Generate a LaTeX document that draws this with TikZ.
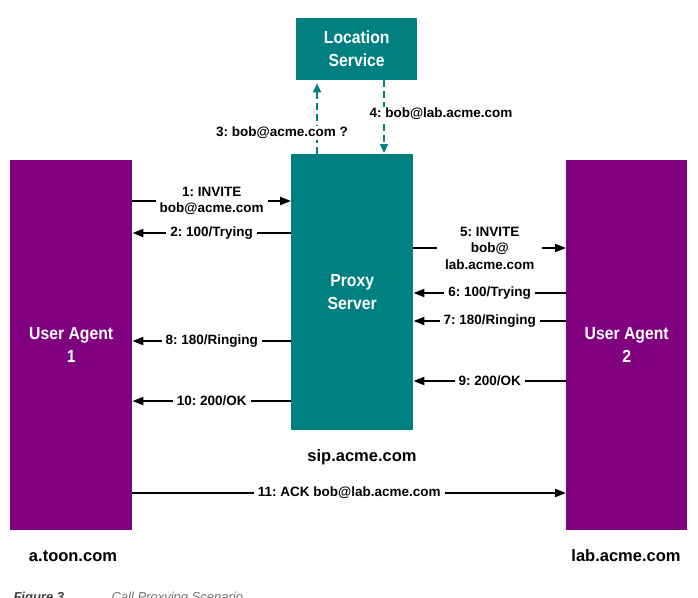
\documentclass[tikz,border=0pt]{standalone}
\usepackage{fontspec}
\setmainfont{Liberation Sans}
\newfontfamily\condfont[FakeStretch=0.9]{Liberation Sans}
\usetikzlibrary{arrows.meta}
\definecolor{tealc}{RGB}{0,128,128}
\definecolor{purplec}{RGB}{128,0,128}
\frenchspacing
\begin{document}
\begin{tikzpicture}[x=1pt,y=-1pt,
  boxtxt/.style={inner sep=0pt, anchor=north west, text=white, align=center,
    font=\condfont\bfseries\fontsize{17.5}{23}\selectfont},
  tealbox/.style={boxtxt, fill=tealc},
  purplebox/.style={boxtxt, fill=purplec},
  lbl/.style={fill=white, inner xsep=4pt, inner ysep=1pt, align=center,
    font=\bfseries\fontsize{13.5}{16.5}\selectfont},
  msg/.style={line width=2pt, -{Triangle[length=11pt,width=8pt]}},
  qry/.style={draw=tealc, line width=2pt, dash pattern=on 7pt off 4pt,
    -{Triangle[length=9pt,width=8pt]}, tealc},
  site/.style={font=\bfseries\fontsize{16.5}{19}\selectfont},
  capfig/.style={anchor=base west, text=black!75, font=\bfseries\itshape\fontsize{13}{15}\selectfont},
  captxt/.style={anchor=base west, text=black!55, font=\itshape\fontsize{13}{15}\selectfont}]
\useasboundingbox (0,0) rectangle (698,597);
\clip (0,0) rectangle (698,597);
\fill[white] (0,0) rectangle (698,597);

% boxes
\node[tealbox, minimum width=121pt, minimum height=62pt] (ls) at (296,18) {Location\\Service};
\node[tealbox, minimum width=122pt, minimum height=276pt] (ps) at (291,154) {Proxy\\Server};
\node[purplebox, minimum width=122pt, minimum height=370pt] (ua1) at (10,160) {User Agent\\1};
\node[purplebox, minimum width=121pt, minimum height=370pt] (ua2) at (566,160) {User Agent\\2};

% location queries
\draw[qry, shorten >=3pt] (317,0 |- ps.north) -- (317,0 |- ls.south);
\node[lbl, inner xsep=1pt] (l3) at (282,133) {3: bob@acme.com ?};
\draw[qry, shorten >=1pt] (384,0 |- ls.south) -- (384,0 |- ps.north);
\node[lbl, inner xsep=1pt] (l4) at (441,114) {4: bob@lab.acme.com};

% left side
\draw[msg] (ua1.east |- 0,201) -- node[lbl, inner ysep=0pt] {1: INVITE\\bob@acme.com} (ps.west |- 0,201);
\draw[msg] (ps.west |- 0,233) -- node[lbl] {2: 100/Trying} (ua1.east |- 0,233);
\draw[msg] (ps.west |- 0,341) -- node[lbl] {8: 180/Ringing} (ua1.east |- 0,341);
\draw[msg] (ps.west |- 0,401) -- node[lbl] {10: 200/OK} (ua1.east |- 0,401);

% right side
\draw[msg] (ps.east |- 0,248) -- node[lbl, inner xsep=8pt] {5: INVITE\\bob@\\lab.acme.com} (ua2.west |- 0,248);
\draw[msg] (ua2.west |- 0,293) -- node[lbl] {6: 100/Trying} (ps.east |- 0,293);
\draw[msg] (ua2.west |- 0,321) -- node[lbl] {7: 180/Ringing} (ps.east |- 0,321);
\draw[msg] (ua2.west |- 0,381) -- node[lbl] {9: 200/OK} (ps.east |- 0,381);

% ACK
\draw[msg] (ua1.east |- 0,493) -- node[lbl] {11: ACK bob@lab.acme.com} (ua2.west |- 0,493);

% site labels
\node[site] (sip) at (362,457) {sip.acme.com};
\node[site] (toon) at (73,556) {a.toon.com};
\node[site] (lab) at (626,556) {lab.acme.com};

% caption (cut off at the bottom edge, as in the reference)
\node[capfig] (cap1) at (10,601.5) {Figure 3};
\node[captxt] (cap2) at (108,601.5) {Call Proxying Scenario};
\end{tikzpicture}
\end{document}
